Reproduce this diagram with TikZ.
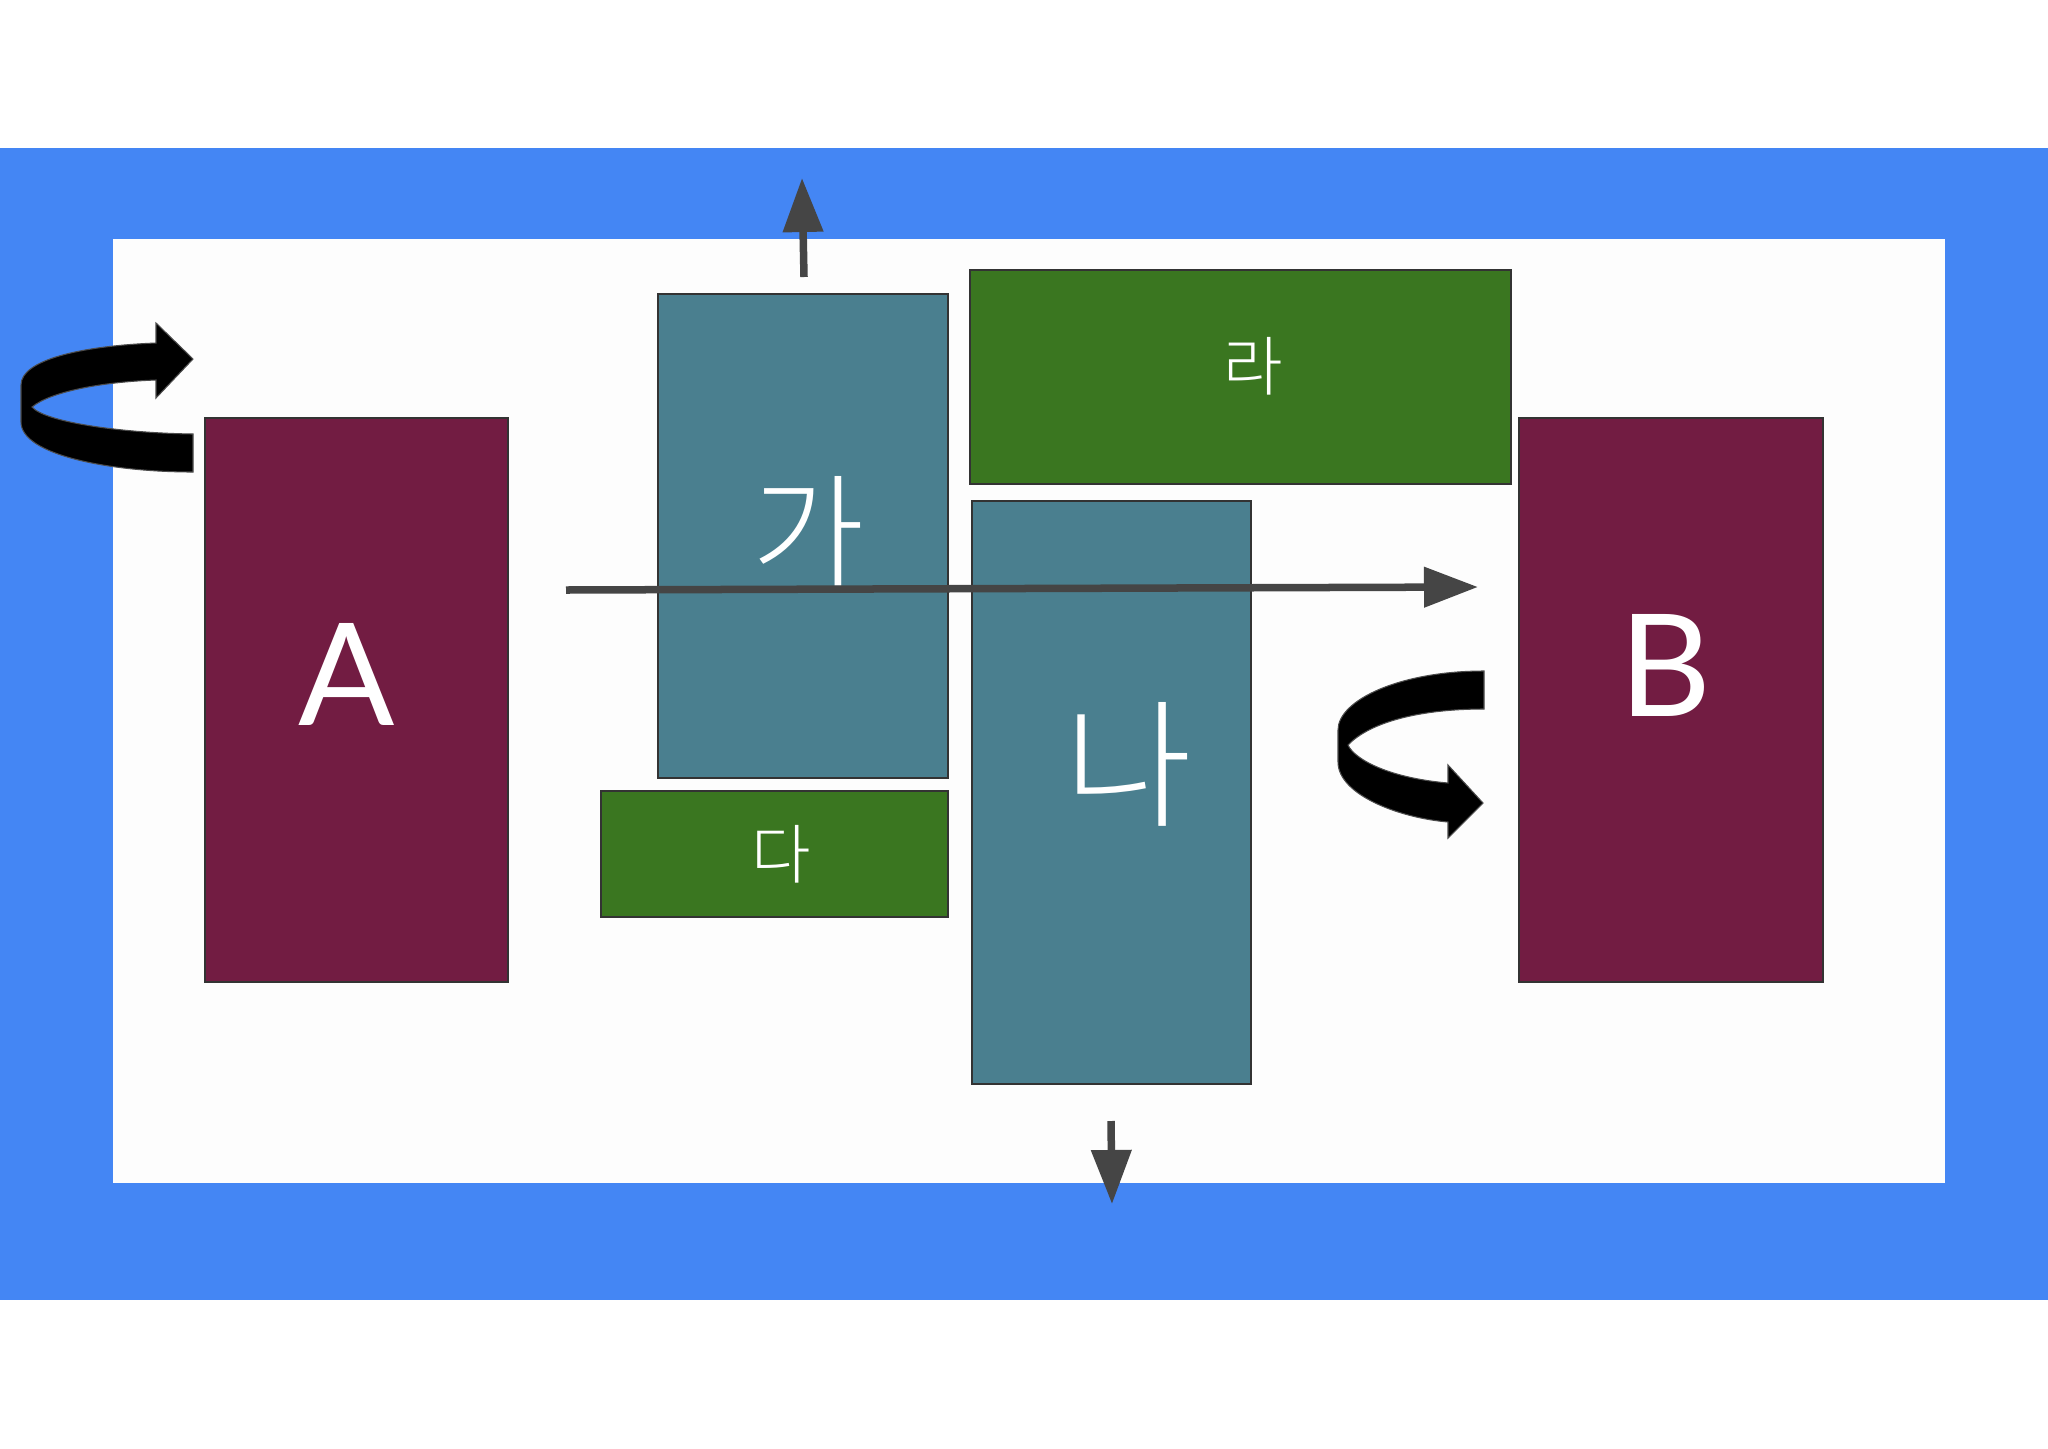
\documentclass[tikz,border=0pt]{standalone}
\usepackage{fontspec}
\usetikzlibrary{arrows.meta}
\newfontfamily\krfont{Noto Sans CJK KR Light}
\newfontfamily\latfont{Lato}
\definecolor{bandblue}{HTML}{4486F4}
\definecolor{maroon}{HTML}{721C42}
\definecolor{tealbox}{HTML}{4A7F8F}
\definecolor{greenbox}{HTML}{3A7620}
\definecolor{arrowgray}{HTML}{454545}
\tikzset{
  box/.style={draw=black!80,line width=0.5pt,inner sep=0pt},
  mbox/.style={box,fill=maroon},
  tbox/.style={box,fill=tealbox},
  gbox/.style={box,fill=greenbox},
  lbl/.style={text=white,inner sep=0pt},
  grayarrow/.style={draw=arrowgray,line width=0.075cm,-{Triangle[length=0.54cm,width=0.39cm]}},
  twist/.style={fill=black,draw=black!70,line width=0.3pt}
}
\begin{document}
\begin{tikzpicture}[x=0.01cm,y=-0.01cm]
\useasboundingbox (0,0) rectangle (2048,1448);
\fill[white] (0,0) rectangle (2048,1448);
\fill[bandblue] (0,148) rectangle (2048,1300);
\fill[white!99.3!black] (113,239) rectangle (1945,1183);
% boxes
\node[mbox,minimum width=3.03cm,minimum height=5.64cm] (A) at (356.5,700) {};
\node[mbox,minimum width=3.04cm,minimum height=5.64cm] (B) at (1671,700) {};
\node[tbox,minimum width=2.90cm,minimum height=4.84cm] (ga) at (803,536) {};
\node[gbox,minimum width=5.41cm,minimum height=2.14cm] (ra) at (1240.5,377) {};
\node[tbox,minimum width=2.79cm,minimum height=5.83cm] (na) at (1111.5,792.5) {};
\node[gbox,minimum width=3.47cm,minimum height=1.26cm] (da) at (774.5,854) {};
% labels
\node[lbl,anchor=base,font=\latfont\fontsize{40.5}{44}\selectfont] (Atxt) at (347,725) {A};
\node[lbl,anchor=base,font=\latfont\fontsize{40.5}{44}\selectfont] (Btxt) at (1666,716) {B};
\node[lbl,font=\krfont\fontsize{35}{40}\selectfont] (gatxt) at (808,531) {가};
\node[lbl,font=\krfont\fontsize{39.5}{44}\selectfont] (natxt) at (1128,764) {나};
\node[lbl,font=\krfont\fontsize{18.4}{22}\selectfont] (ratxt) at (1253,366) {라};
\node[lbl,font=\krfont\fontsize{18.4}{22}\selectfont] (datxt) at (781,854) {다};
% straight arrows
\coordinate (hs) at (566,590);
\coordinate (he) at (1478,587);
\coordinate (us) at (804,277);
\coordinate (ue) at (802,178);
\coordinate (ds) at (1111,1121);
\coordinate (de) at (1112,1204);
\draw[grayarrow] (hs) -- (he);
\draw[grayarrow] (us) -- (ue);
\draw[grayarrow] (ds) -- (de);
% twisted arrows
\path[twist] (193,434) .. controls (120,433) and (45,422) .. (32,407)
  .. controls (50,392) and (100,382) .. (156,380)
  -- (156,398) -- (193,359) -- (156,323) -- (156,343)
  .. controls (80,346) and (21,360) .. (21,385)
  -- (21,422) .. controls (21,455) and (110,472) .. (193,472) -- cycle;
\path[twist] (1484,671) .. controls (1400,671) and (1338,700) .. (1338,730)
  -- (1338,762) .. controls (1338,795) and (1400,818) .. (1448,822)
  -- (1448,838) -- (1483,803) -- (1448,765) -- (1448,783)
  .. controls (1390,778) and (1355,760) .. (1348,745)
  .. controls (1370,722) and (1420,709) .. (1484,709) -- cycle;
\end{tikzpicture}
\end{document}
